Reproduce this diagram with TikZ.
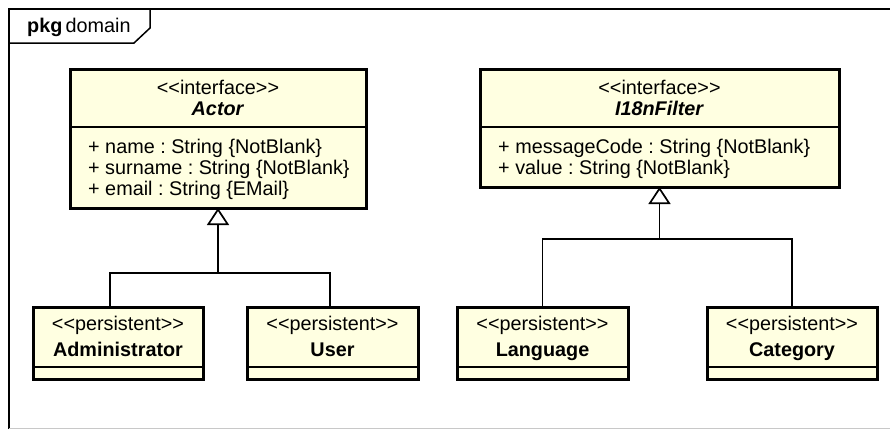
\documentclass[tikz,border=0pt]{standalone}
\usepackage{fontspec}
\setmainfont{Liberation Sans}[Ligatures=TeXOff]
\usetikzlibrary{arrows.meta}
\definecolor{clsfill}{RGB}{255,255,225}
\definecolor{framegray}{RGB}{200,200,200}
\begin{document}
\frenchspacing
\begin{tikzpicture}[x=1pt,y=-1pt,
  font=\fontsize{19.8}{21}\selectfont\frenchspacing,
  clsbox/.style={draw=black, line width=3pt, fill=clsfill, anchor=north west,
    inner sep=0pt, outer sep=0pt},
  sepline/.style={line width=1.3pt},
  conn/.style={line width=1.7pt},
  gen/.style={conn, -{Triangle[open, length=17pt, width=22pt, line width=1.7pt]}},
  txt/.style={inner sep=0pt, anchor=base},
  attr/.style={inner sep=0pt, anchor=base west},
]
\useasboundingbox (0,0) rectangle (890,429);

% package frame and its name tab
\draw[line width=2pt] (9,429) -- (9,9) -- (892,9);
\draw[framegray, line width=1.5pt] (9,428.5) -- (890,428.5);
\draw[line width=1.5pt] (9,43) -- (134,43) -- (150,28) -- (150,9);
\node[inner sep=0pt, anchor=base west] (pkglabel) at (27,32) {\textbf{pkg}\,domain};

% interface Actor
\node[clsbox, minimum width=296pt, minimum height=139pt] (actor) at (70,69) {};
\draw[sepline] (actor.west |- 0,127) -- (actor.east |- 0,127);
\node[txt] (actorst) at (218,94) {<<interface>>};
\node[txt] (actorname) at (218,115) {\textbf{\textit{Actor}}};
\node[attr] (a1) at (88,153) {+ name : String \{NotBlank\}};
\node[attr] (a2) at (88,174) {+ surname : String \{NotBlank\}};
\node[attr] (a3) at (88,195) {+ email : String \{EMail\}};

% interface I18nFilter
\node[clsbox, minimum width=359pt, minimum height=118pt] (filter) at (480,69) {};
\draw[sepline] (filter.west |- 0,127) -- (filter.east |- 0,127);
\node[txt] (filterst) at (659.5,94) {<<interface>>};
\node[txt] (filtername) at (659.5,115) {\textbf{\textit{I18nFilter}}};
\node[attr] (f1) at (498,153) {+ messageCode : String \{NotBlank\}};
\node[attr] (f2) at (498,174) {+ value : String \{NotBlank\}};

% persistent classes
\node[clsbox, minimum width=170pt, minimum height=72pt] (admin) at (33,307) {};
\node[clsbox, minimum width=171pt, minimum height=72pt] (user) at (247,307) {};
\node[clsbox, minimum width=171pt, minimum height=72pt] (lang) at (457,307) {};
\node[clsbox, minimum width=170pt, minimum height=72pt] (cat) at (707,307) {};
\foreach \b in {admin,user,lang,cat}{
  \draw[sepline] (\b.west |- 0,367) -- (\b.east |- 0,367);
}
\node[txt] (adminst) at (118,330.5) {<<persistent>>};
\node[txt] (adminname) at (118,356.5) {\textbf{Administrator}};
\node[txt] (userst) at (332.5,330.5) {<<persistent>>};
\node[txt] (username) at (332.5,356.5) {\textbf{User}};
\node[txt] (langst) at (542.5,330.5) {<<persistent>>};
\node[txt] (langname) at (542.5,356.5) {\textbf{Language}};
\node[txt] (catst) at (792,330.5) {<<persistent>>};
\node[txt] (catname) at (792,356.5) {\textbf{Category}};

% generalisations
\coordinate (ja) at (218,273);
\coordinate (jf) at (659.5,239);
\draw[conn] ([xshift=-8pt]admin.north) |- (ja);
\draw[conn] ([xshift=-2.5pt]user.north) |- (ja);
\draw[gen] (ja) -- (actor.south);
\draw[conn] (lang.north) |- (jf);
\draw[conn] (cat.north) |- (jf);
\draw[gen] (jf) -- (filter.south);
\end{tikzpicture}
\end{document}
